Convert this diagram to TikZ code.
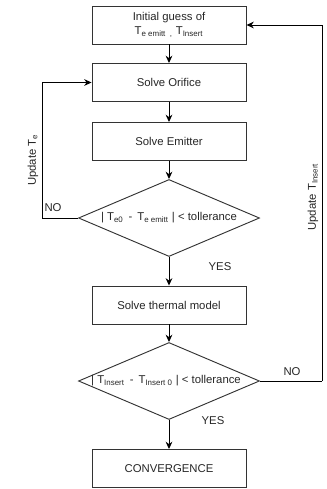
\documentclass[tikz,border=0pt]{standalone}
\usepackage{fontspec}
\setmainfont{Liberation Sans}
\usetikzlibrary{shapes.geometric,arrows.meta}
\newcommand{\testo}{\fontsize{8.5}{10}\selectfont}
\begin{document}
\begin{tikzpicture}[
	x=0.75pt, y=-0.75pt,
	blocco/.style={rectangle, draw=black!80, line width=0.7pt,
		minimum width=115.5pt, minimum height=28.5pt,
		inner sep=0pt, font=\testo, text=black!85, align=center},
	rombo/.style={diamond, draw=black!80, line width=0.7pt,
		minimum width=135.75pt, minimum height=57.75pt,
		inner sep=0pt},
	freccia/.style={draw=black, line width=0.7pt,
		-{Stealth[length=5.5pt, width=5pt]}},
	linea/.style={draw=black, line width=0.7pt},
	etich/.style={font=\testo, text=black!85, inner sep=0pt},
	]
	\useasboundingbox (0,0) rectangle (327,489);
	
	% blocchi
	\node[blocco] (guess) at (169,25)
		{Initial guess of\\[1pt]T\textsubscript{e emitt~~,}~T\textsubscript{Insert}};
	\node[blocco] (orif) at (169,82.5) {Solve Orifice};
	\node[blocco] (emit) at (169,141.5) {Solve Emitter};
	\node[rombo] (test1) at (169,218) {};
	\node[etich] (testo1) at (test1)
		{| T\textsubscript{e0}\, - \,T\textsubscript{e emitt} | < tollerance};
	\node[blocco] (term) at (169,305) {Solve thermal model};
	\node[rombo] (test2) at (169,381) {};
	\node[etich] (testo2) at (166,381)
		{| T\textsubscript{Insert}\, - \,T\textsubscript{Insert 0} | < tollerance};
	\node[blocco] (conv) at (169,468.5) {CONVERGENCE};
	
	% punti d'angolo dei cicli
	\coordinate (c1) at (42,218);
	\coordinate (c2) at (42,82.5);
	\coordinate (c3) at (322,381);
	\coordinate (c4) at (322,25);
	
	% frecce principali
	\draw[freccia] (guess) -- (orif);
	\draw[freccia] (orif) -- (emit);
	\draw[freccia] (emit) -- (test1);
	\draw[freccia] (test1) -- (term);
	\draw[freccia] (term) -- (test2);
	\draw[freccia] (test2) -- (conv);
	
	% cicli di aggiornamento
	\draw[linea] (test1.west) -- (c1);
	\draw[freccia] (c1) -- (c2) -- (orif.west);
	\draw[linea] (test2.east) -- (c3);
	\draw[freccia] (c3) -- (c4) -- (guess.east);
	
	% etichette
	\node[etich] (no1) at (53,208) {NO};
	\node[etich] (si1) at (220,267) {YES};
	\node[etich] (no2) at (292,372) {NO};
	\node[etich] (si2) at (213,421) {YES};
	\node[etich, rotate=90] (agg1) at (33,160) {Update T\textsubscript{e}};
	\node[etich, rotate=90] (agg2) at (313,197) {Update T\textsubscript{Insert}};
	
\end{tikzpicture}
\end{document}
